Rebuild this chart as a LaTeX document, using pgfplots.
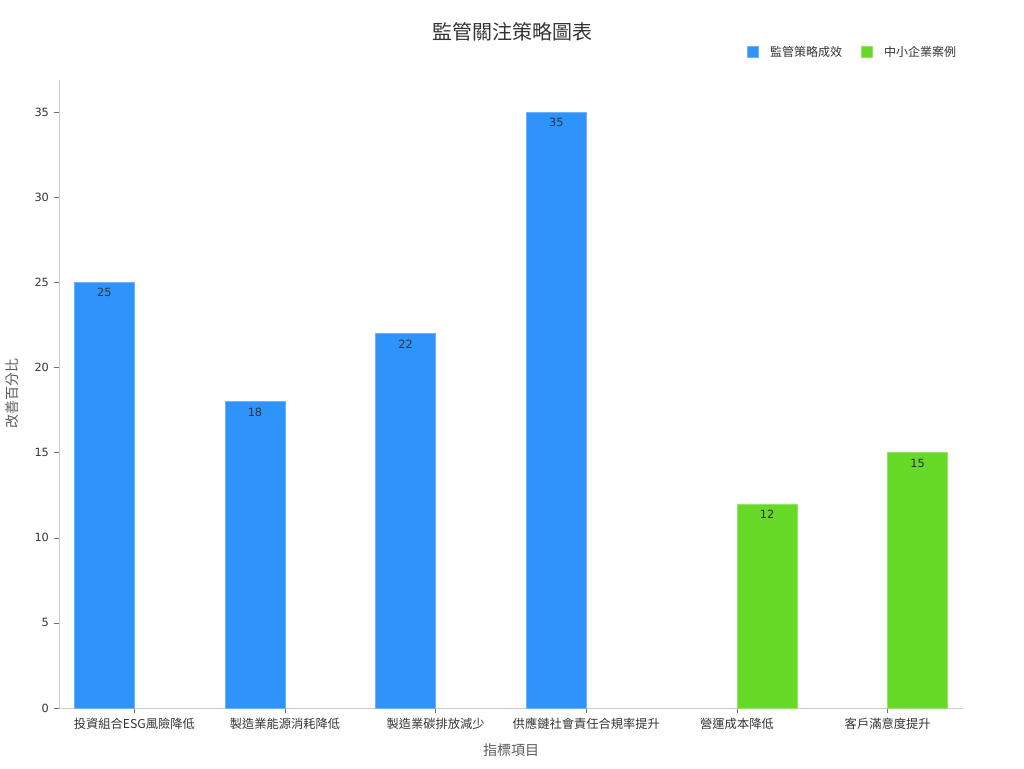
\documentclass[border=0pt]{standalone}
\usepackage{fontspec}
\setmainfont{DejaVu Sans}
\newfontfamily\cjk{Noto Sans CJK TC}
\usepackage{pgfplots}
\pgfplotsset{compat=1.18}
\definecolor{cblue}{HTML}{2E93FA}
\definecolor{cgreen}{HTML}{66DA26}
\definecolor{axgray}{HTML}{CCCCCC}
\definecolor{txt}{HTML}{333333}
\begin{document}
\begin{tikzpicture}
\path (0,0) rectangle (768pt,576pt);
\node[font=\cjk\fontsize{15}{18}\selectfont, text=txt] at (384pt,552pt) {監管關注策略圖表};
\begin{axis}[
  at={(44.25pt,45pt)}, anchor=south west,
  scale only axis, width=678pt, height=471pt,
  xmin=-0.5, xmax=5.5, ymin=0, ymax=36.9,
  axis x line*=bottom, axis y line*=left,
  axis line style={axgray},
  xtick={0,1,2,3,4,5},
  xticklabels={投資組合ESG風險降低,製造業能源消耗降低,製造業碳排放減少,供應鏈社會責任合規率提升,營運成本降低,客戶滿意度提升},
  xticklabel style={font=\cjk\fontsize{9.2}{11}\selectfont, text=txt},
  ytick={0,5,10,15,20,25,30,35},
  yticklabel style={font=\fontsize{8.5}{10}\selectfont, text=txt},
  /pgf/number format/assume math mode=true,
  tick style={color=txt!70, thin},
  major tick length=4pt,
  tick align=outside,
  xtick pos=bottom, ytick pos=left,
  xlabel={\cjk 指標項目}, ylabel={\cjk 改善百分比},
  xlabel style={font=\fontsize{10.5}{12}\selectfont, text=txt!80, yshift=-4pt},
  ylabel style={font=\fontsize{10.5}{12}\selectfont, text=txt!80, yshift=5pt},
  ybar, bar width=45pt,
  nodes near coords,
  nodes near coords style={font=\fontsize{8.5}{10}\selectfont, text=txt, anchor=north, yshift=-1pt},
  legend style={at={(axis description cs:1.0,1)}, anchor=east, yshift=21pt, draw=none, font=\cjk\fontsize{9}{10}\selectfont, text=txt, legend columns=2,
    /tikz/every odd column/.append style={column sep=7pt},
    /tikz/every even column/.append style={column sep=12pt}},
  legend image code/.code={\fill[#1] (0pt,-4pt) rectangle (8pt,4pt);},
]
\addplot[fill=cblue, draw=cblue!70!white, bar shift=-22.5pt] coordinates {(0,25) (1,18) (2,22) (3,35)};
\addlegendentry{監管策略成效}
\addplot[fill=cgreen, draw=cgreen!70!white, bar shift=22.5pt] coordinates {(4,12) (5,15)};
\addlegendentry{中小企業案例}
\end{axis}
\end{tikzpicture}
\end{document}
